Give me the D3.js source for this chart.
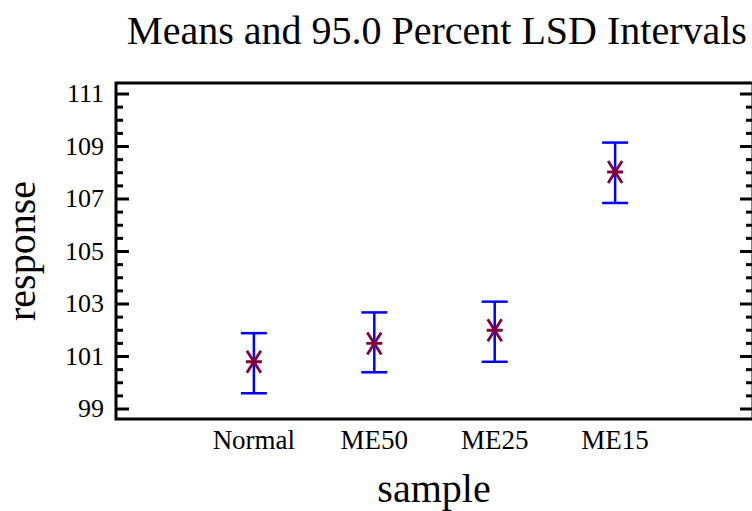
<!DOCTYPE html>
<html>
<head>
<meta charset="utf-8">
<script src="https://cdn.jsdelivr.net/npm/d3@7"></script>
<style>
  body { margin: 0; background: #fff; }
  svg { display: block; font-family: "Liberation Serif", "Times New Roman", serif; }
</style>
</head>
<body>
<svg id="chart" width="752" height="511"></svg>
<script>
// data
var samples = ["Normal", "ME50", "ME25", "ME15"];
var means = [100.78, 101.48, 101.98, 108.01];
var lower = [99.58, 100.38, 100.78, 106.83];
var upper = [101.87, 102.66, 103.07, 109.13];
var yTicks = [99, 101, 103, 105, 107, 109, 111];
var yMinor = [99.5, 100, 100.5, 101.5, 102, 102.5, 103.5, 104, 104.5, 105.5, 106, 106.5,
              107.5, 108, 108.5, 109.5, 110, 110.5];

var svg = d3.select("#chart");
// right frame edge sits just past the canvas, as in the original
var margin = {top: 83, right: -1, bottom: 92, left: 116},
    width = 752 - margin.left - margin.right,
    height = 511 - margin.top - margin.bottom;

var x = d3.scalePoint().domain(samples).range([0, width]).padding(1.145);
var y = d3.scaleLinear().domain([98.6, 111.4]).range([height, 0]);

var g = svg.append("g").attr("transform", "translate(" + margin.left + "," + margin.top + ")");

// ticks, inside on both sides
function ticks(axis, vals, len) {
  var a = g.append("g")
    .attr("transform", axis === "right" ? "translate(" + width + ",0)" : null)
    .call((axis === "right" ? d3.axisLeft(y) : d3.axisRight(y))
      .tickValues(vals).tickSize(len).tickFormat(""));
  a.select(".domain").remove();
  a.selectAll("line").attr("stroke", "#000").attr("stroke-width", 3);
}
ticks("left", yTicks, 13);
ticks("left", yMinor, 7);
ticks("right", yTicks, 13);
ticks("right", yMinor, 7);

// y labels
g.selectAll(".ylab").data(yTicks).enter().append("text")
  .attr("x", -12)
  .attr("y", function(d) { return y(d); })
  .attr("dy", "0.34em")
  .attr("text-anchor", "end")
  .attr("font-size", 26)
  .text(function(d) { return d; });

// x labels
g.selectAll(".xlab").data(samples).enter().append("text")
  .attr("x", function(d) { return x(d); })
  .attr("y", height + 30)
  .attr("text-anchor", "middle")
  .attr("font-size", 27)
  .text(function(d) { return d; });

// frame
g.append("rect")
  .attr("width", width).attr("height", height)
  .attr("fill", "none").attr("stroke", "#000").attr("stroke-width", 3);

// error bars
var bars = g.selectAll(".bar").data(samples).enter().append("g")
  .attr("stroke", "#0000ff").attr("stroke-width", 2.5);
bars.append("line")
  .attr("x1", function(d) { return x(d); }).attr("x2", function(d) { return x(d); })
  .attr("y1", function(d, i) { return y(lower[i]); })
  .attr("y2", function(d, i) { return y(upper[i]); });
bars.append("line")
  .attr("x1", function(d) { return x(d) - 13; }).attr("x2", function(d) { return x(d) + 13; })
  .attr("y1", function(d, i) { return y(lower[i]); })
  .attr("y2", function(d, i) { return y(lower[i]); });
bars.append("line")
  .attr("x1", function(d) { return x(d) - 13; }).attr("x2", function(d) { return x(d) + 13; })
  .attr("y1", function(d, i) { return y(upper[i]); })
  .attr("y2", function(d, i) { return y(upper[i]); });

// mean markers
g.selectAll(".mean").data(samples).enter().append("path")
  .attr("transform", function(d, i) { return "translate(" + x(d) + "," + y(means[i]) + ")"; })
  .attr("d", "M-8,0H8M-7,-11L7,11M7,-11L-7,11")
  .attr("fill", "none")
  .attr("stroke", "#800040")
  .attr("stroke-width", 2.8);

// titles
svg.append("text")
  .attr("x", 437).attr("y", 44)
  .attr("text-anchor", "middle")
  .attr("font-size", 40)
  .text("Means and 95.0 Percent LSD Intervals");

svg.append("text")
  .attr("x", 434).attr("y", 502)
  .attr("text-anchor", "middle")
  .attr("font-size", 40)
  .text("sample");

svg.append("text")
  .attr("transform", "translate(35," + (margin.top + height / 2) + ") rotate(-90)")
  .attr("text-anchor", "middle")
  .attr("font-size", 40)
  .text("response");
</script>
</body>
</html>
